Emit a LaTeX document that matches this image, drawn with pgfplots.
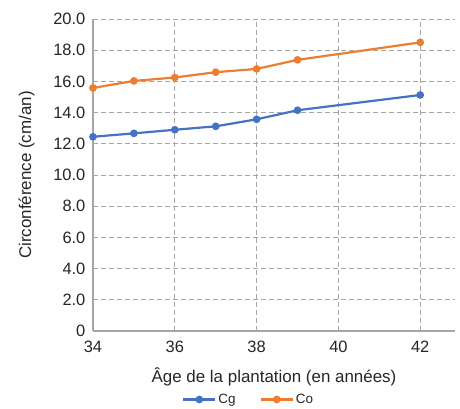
\documentclass[border=0pt]{standalone}
\usepackage{fontspec}
\setmainfont{Liberation Sans}
\usepackage{pgfplots}
\pgfplotsset{compat=1.18}
\definecolor{cblue}{HTML}{4472C4}
\definecolor{corange}{HTML}{ED7D31}
\definecolor{txt}{HTML}{262626}
\definecolor{gridc}{HTML}{A6A6A6}
\begin{document}
\begin{tikzpicture}
\path[use as bounding box] (-93bp,-78bp) rectangle (367bp,331bp);
\begin{axis}[
  scale only axis, width=362bp, height=312bp,
  xmin=34, xmax=42.85, ymin=0, ymax=20,
  xtick={34,36,38,40,42}, ytick={0,2,...,20},
  yticklabel={\ifdim\tick pt=0pt 0\else\pgfmathprintnumber[fixed,fixed zerofill,precision=1]{\tick}\fi},
  /pgf/number format/assume math mode=true,
  axis lines=left, axis line style={gridc, line width=1.2pt, -},
  tick style={draw=none},
  grid=major, grid style={gridc, dash pattern=on 5bp off 3bp, line width=0.8pt},
  ticklabel style={font=\fontsize{16.5}{18}\selectfont, text=txt},
  xticklabel style={yshift=-4bp},
  yticklabel style={xshift=-2bp},
  xlabel={Âge de la plantation (en années)},
  ylabel={Circonférence (cm/an)},
  label style={font=\fontsize{17}{19}\selectfont, text=txt},
  xlabel style={yshift=-9bp},
  ylabel style={yshift=12bp},
  legend style={at={(0.43,-0.195)}, anchor=north, draw=none, legend columns=2, inner sep=0bp,
    font=\fontsize{13.5}{14}\selectfont, text=txt, /tikz/every even column/.append style={column sep=22bp}},
  legend image code/.code={
    \draw[#1, mark=none] (0bp,0bp) -- (32bp,0bp);
    \draw[#1, only marks] plot coordinates {(16bp,0bp)};
  },
  every axis plot/.append style={line width=2.2pt, mark=*, mark size=2.7bp},
]
\addplot[cblue, mark options={fill=cblue}] coordinates {(34,12.45) (35,12.67) (36,12.9) (37,13.12) (38,13.57) (39,14.15) (42,15.13)};
\addlegendentry{Cg}
\addplot[corange, mark options={fill=corange}] coordinates {(34,15.58) (35,16.03) (36,16.25) (37,16.59) (38,16.8) (39,17.38) (42,18.5)};
\addlegendentry{Co}
\end{axis}
\end{tikzpicture}
\end{document}
